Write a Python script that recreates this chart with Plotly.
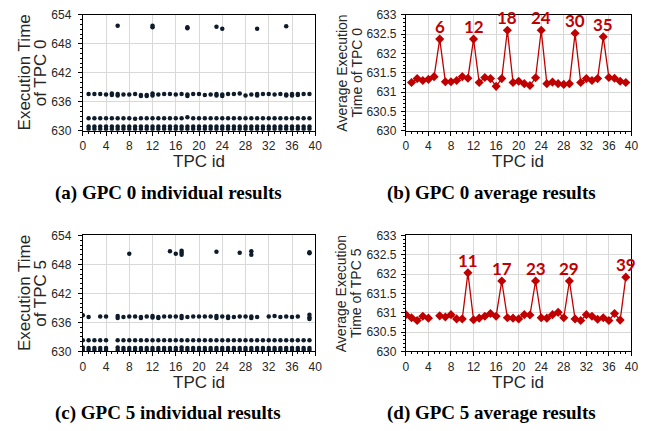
import plotly.graph_objects as go

# ---------------- data ----------------
# GPC 0 average execution time per TPC id (panel b)
gpc0_tpc = [1, 2, 3, 4, 5, 6, 7, 8, 9, 10, 11, 12, 13, 14, 15, 16, 17, 18, 19, 20,
            21, 22, 23, 24, 25, 26, 27, 28, 29, 30, 31, 32, 33, 34, 35, 36, 37, 38, 39]
gpc0_avg = [631.25, 631.35, 631.30, 631.33, 631.40, 632.37, 631.27, 631.27, 631.30, 631.40,
            631.36, 632.37, 631.25, 631.38, 631.35, 631.15, 631.35, 632.60, 631.25, 631.28,
            631.22, 631.17, 631.37, 632.60, 631.22, 631.26, 631.22, 631.20, 631.22, 632.52,
            631.25, 631.35, 631.30, 631.35, 632.43, 631.38, 631.36, 631.28, 631.25]
gpc0_peaks = [6, 12, 18, 24, 30, 35]

# GPC 5 average execution time per TPC id (panel d), TPC 5 missing
gpc5_tpc = [0, 1, 2, 3, 4, 5, 6, 7, 8, 9, 10, 11, 12, 13, 14, 15, 16, 17, 18, 19,
            20, 21, 22, 23, 24, 25, 26, 27, 28, 29, 30, 31, 32, 33, 34, 35, 36, 37, 38, 39]
gpc5_avg = [630.95, 630.87, 630.80, 630.91, 630.86, None, 630.92, 630.89, 630.95, 630.84,
            630.84, 632.03, 630.82, 630.86, 630.91, 630.98, 630.91, 631.82, 630.87, 630.86,
            630.84, 630.95, 630.94, 631.82, 630.87, 630.86, 630.95, 631.01, 630.87, 631.82,
            630.84, 630.80, 630.95, 630.91, 630.83, 630.87, 630.80, 630.98, 630.81, 631.92]
gpc5_peaks = [11, 17, 23, 29, 39]

# GPC 0 individual runs (panel a)
gpc0_band_hi = [637.6, 637.6, 637.6, 637.5, 637.7, 637.6, 637.5, 637.5, 637.6, 637.4,
                637.4, 637.7, 637.5, 637.6, 637.6, 637.5, 637.6, 637.5, 637.6, 637.6,
                637.4, 637.5, 637.6, 637.5, 637.6, 637.6, 637.7, 637.3, 637.5, 637.6,
                637.6, 637.6, 637.5, 637.6, 637.5, 637.6, 637.6, 637.6, 637.6]
gpc0_band_mid = [632.6, 632.6, 632.6, 632.6, 632.6, 632.6, 632.6, 632.6, 632.5, 632.6,
                 632.6, 632.6, 632.6, 632.6, 632.6, 632.6, 632.6, 632.8, 632.6, 632.6,
                 632.6, 632.6, 632.6, 632.6, 632.6, 632.6, 632.6, 632.6, 632.6, 632.6,
                 632.6, 632.6, 632.6, 632.6, 632.6, 632.6, 632.6, 632.6, 632.6]
gpc0_band_low = [630.9, 630.9, 630.9, 630.9, 630.9, 630.9, 630.9, 630.9, 630.9, 630.9,
                 630.9, 630.9, 630.9, 630.9, 630.9, 630.9, 630.9, 630.9, 630.9, 630.9,
                 630.9, 630.9, 630.9, 630.9, 630.9, 630.9, 630.9, 630.9, 630.9, 630.9,
                 630.9, 630.9, 630.9, 630.9, 630.9, 630.9, 630.9, 630.9, 630.9]
gpc0_band_base = [630.4, 630.4, 630.4, 630.4, 630.4, 630.4, 630.4, 630.4, 630.4, 630.4,
                  630.4, 630.4, 630.4, 630.4, 630.4, 630.4, 630.4, 630.4, 630.4, 630.4,
                  630.4, 630.4, 630.4, 630.4, 630.4, 630.4, 630.4, 630.4, 630.4, 630.4,
                  630.4, 630.4, 630.4, 630.4, 630.4, 630.4, 630.4, 630.4, 630.4]
gpc0_extra_tpc = [5, 6, 10, 11, 12, 18, 23, 24, 30, 35, 36, 37]
gpc0_extra_val = [637.4, 637.3, 637.2, 637.2, 637.3, 637.2, 637.3, 637.2, 637.3, 637.3, 637.3, 637.4]
gpc0_out_tpc = [6, 12, 12, 18, 18, 23, 24, 30, 35]
gpc0_out_val = [651.7, 651.7, 651.4, 651.4, 651.2, 651.5, 651.1, 651.1, 651.6]

# GPC 5 individual runs (panel c)
gpc5_hi_tpc = [0, 1, 3, 4, 6, 7, 8, 9, 10, 11, 12, 13, 14, 15, 16, 17, 18, 19, 20, 21,
               22, 23, 24, 25, 26, 27, 28, 29, 30, 32, 33, 34, 35, 36, 37, 39]
gpc5_hi_val = [637.5, 637.1, 637.2, 637.2, 637.3, 637.1, 637.2, 637.2, 637.1, 637.2,
               637.3, 637.1, 637.2, 637.2, 637.2, 637.3, 637.1, 637.2, 637.2, 637.2,
               637.2, 637.3, 637.2, 637.2, 637.1, 637.2, 637.2, 637.2, 637.1, 637.2,
               637.3, 637.1, 637.2, 637.1, 637.2, 637.6]
gpc5_run_tpc = [0, 1, 2, 3, 4, 6, 7, 8, 9, 10, 11, 12, 13, 14, 15, 16, 17, 18, 19, 20,
                21, 22, 23, 24, 25, 26, 27, 28, 29, 30, 31, 32, 33, 34, 35, 36, 37, 38, 39]
gpc5_band_mid = [632.3, 632.3, 632.3, 632.3, 632.3, 632.3, 632.3, 632.3, 632.3, 632.3,
                 632.3, 632.3, 632.3, 632.3, 632.3, 632.3, 632.3, 632.3, 632.3, 632.3,
                 632.3, 632.3, 632.3, 632.3, 632.3, 632.3, 632.3, 632.3, 632.3, 632.3,
                 632.3, 632.3, 632.3, 632.3, 632.3, 632.3, 632.3, 632.3, 632.3]
gpc5_band_low = [630.8, 630.7, 630.7, 630.7, 630.7, 630.8, 630.7, 630.7, 630.7, 630.7,
                 630.7, 630.7, 630.7, 630.7, 630.7, 630.7, 630.8, 630.7, 630.7, 630.7,
                 630.7, 630.7, 630.7, 630.7, 630.7, 630.7, 630.7, 630.7, 630.7, 630.7,
                 630.7, 630.7, 630.7, 630.7, 630.7, 630.7, 630.7, 630.7, 630.7]
gpc5_band_base = [630.3, 630.3, 630.3, 630.3, 630.3, 630.3, 630.3, 630.3, 630.3, 630.3,
                  630.3, 630.3, 630.3, 630.3, 630.3, 630.3, 630.3, 630.3, 630.3, 630.3,
                  630.3, 630.3, 630.3, 630.3, 630.3, 630.3, 630.3, 630.3, 630.3, 630.3,
                  630.3, 630.3, 630.3, 630.3, 630.3, 630.3, 630.3, 630.3, 630.3]
gpc5_extra_tpc = [6, 10, 12, 13, 17, 23, 25, 29, 39, 39]
gpc5_extra_val = [636.9, 636.9, 637.0, 636.9, 636.9, 636.9, 636.9, 636.9, 637.0, 636.7]
gpc5_out_tpc = [8, 15, 16, 17, 17, 17, 23, 27, 29, 29, 39, 39]
gpc5_out_val = [650.2, 650.7, 650.2, 650.8, 650.4, 650.0, 650.6, 650.4, 650.7, 650.0, 650.5, 650.3]

captions = ["(a) GPC 0 individual results", "(b) GPC 0 average results",
            "(c) GPC 5 individual results", "(d) GPC 5 average results"]

# ---------------- styling ----------------
W, H = 668, 431
DOT = "#0d1b2a"
RED = "#c00000"
TICKFONT = dict(family="Liberation Sans, Arial", size=12, color="#262626")
TITLEFONT = dict(family="Liberation Sans, Arial", size=17, color="#262626")
TITLEFONT_SM = dict(family="Liberation Sans, Arial", size=14, color="#262626")

def px_x(p):
    return p / W

def px_y(p):
    return 1 - p / H

fig = go.Figure()

# panel a
a_x = gpc0_tpc * 4 + gpc0_extra_tpc + gpc0_out_tpc
a_y = gpc0_band_hi + gpc0_band_mid + gpc0_band_low + gpc0_band_base + gpc0_extra_val + gpc0_out_val
fig.add_trace(go.Scatter(x=a_x, y=a_y, mode="markers", xaxis="x", yaxis="y",
                         marker=dict(color=DOT, size=4.5), showlegend=False))

# panel b
fig.add_trace(go.Scatter(x=gpc0_tpc, y=gpc0_avg, mode="lines+markers", xaxis="x2", yaxis="y2",
                         line=dict(color=RED, width=1.3),
                         marker=dict(color=RED, size=7, symbol="diamond"), showlegend=False))

# panel c
c_x = gpc5_hi_tpc + gpc5_run_tpc * 3 + gpc5_extra_tpc + gpc5_out_tpc
c_y = gpc5_hi_val + gpc5_band_mid + gpc5_band_low + gpc5_band_base + gpc5_extra_val + gpc5_out_val
fig.add_trace(go.Scatter(x=c_x, y=c_y, mode="markers", xaxis="x3", yaxis="y3",
                         marker=dict(color=DOT, size=4.5), showlegend=False))

# panel d
fig.add_trace(go.Scatter(x=gpc5_tpc, y=gpc5_avg, mode="lines+markers", xaxis="x4", yaxis="y4",
                         line=dict(color=RED, width=1.3), connectgaps=False,
                         marker=dict(color=RED, size=7, symbol="diamond"), showlegend=False))

def axis_common():
    return dict(showline=True, linecolor="black", linewidth=1, mirror=True,
                showgrid=True, gridcolor="#d9d9d9", gridwidth=1, zeroline=False,
                ticks="outside", ticklen=4, tickcolor="black", tickfont=TICKFONT,
                fixedrange=True)

xdom_left = [px_x(81), px_x(317)]
xdom_right = [px_x(409), px_x(638)]
ydom_top = [px_y(128), px_y(8)]
ydom_bot = [px_y(356), px_y(236)]

def xax(dom, anchor):
    d = axis_common()
    d.update(domain=dom, anchor=anchor, range=[0, 40], dtick=4, tick0=0,
             minor=dict(ticks="outside", ticklen=2, dtick=1, tickcolor="black", showgrid=False))
    return d

def yax_scatter(dom, anchor):
    d = axis_common()
    d.update(domain=dom, anchor=anchor, range=[630, 654], dtick=6, tick0=630,
             ticklabelstandoff=4,
             minor=dict(ticks="outside", ticklen=2, dtick=1, tickcolor="black", showgrid=False))
    return d

def yax_avg(dom, anchor):
    d = axis_common()
    d.update(domain=dom, anchor=anchor, range=[630, 633], dtick=0.5, tick0=630,
             ticklabelstandoff=2,
             minor=dict(ticks="outside", ticklen=2, dtick=0.1, tickcolor="black", showgrid=False))
    return d

fig.update_layout(
    width=W, height=H, margin=dict(l=0, r=0, t=0, b=0),
    paper_bgcolor="white", plot_bgcolor="white",
    xaxis=xax(xdom_left, "y"), yaxis=yax_scatter(ydom_top, "x"),
    xaxis2=xax(xdom_right, "y2"), yaxis2=yax_avg(ydom_top, "x2"),
    xaxis3=xax(xdom_left, "y3"), yaxis3=yax_scatter(ydom_bot, "x3"),
    xaxis4=xax(xdom_right, "y4"), yaxis4=yax_avg(ydom_bot, "x4"),
)

ann = []
# x-axis titles
for cx, cy in [(199, 160), (523, 160), (199, 388), (523, 388)]:
    ann.append(dict(text="TPC id", x=px_x(cx), y=px_y(cy), xref="paper", yref="paper",
                    showarrow=False, font=TITLEFONT, xanchor="center", yanchor="middle"))
# y-axis titles (two lines each)
ytitles = [
    (["Execution Time", "of TPC 0"], 22, 38, 68, TITLEFONT),
    (["Average Execution", "Time of TPC 0"], 344, 359, 68, TITLEFONT_SM),
    (["Execution Time", "of TPC 5"], 22, 38, 296, TITLEFONT),
    (["Average Execution", "Time of TPC 5"], 344, 359, 296, TITLEFONT_SM),
]
for lines, x1, x2, cy, fnt in ytitles:
    for txt, xx in zip(lines, [x1, x2]):
        ann.append(dict(text=txt, x=px_x(xx), y=px_y(cy), xref="paper", yref="paper",
                        showarrow=False, font=fnt, textangle=-90,
                        xanchor="center", yanchor="middle"))
# captions
for txt, cx, cy in zip(captions, [168, 496, 168, 496], [192, 192, 420, 420]):
    ann.append(dict(text="<b>" + txt + "</b>", x=px_x(cx), y=px_y(cy), xref="paper", yref="paper",
                    showarrow=False, xanchor="center", yanchor="middle",
                    font=dict(family="Liberation Serif, Times New Roman", size=19, color="black")))
# peak labels
LBL = dict(family="Lato, Liberation Sans", size=17, color=RED)
for t in gpc0_peaks:
    v = gpc0_avg[gpc0_tpc.index(t)]
    ann.append(dict(text="<b>%d</b>" % t, x=t, y=v, xref="x2", yref="y2", showarrow=False,
                    xanchor="center", yanchor="bottom", yshift=0, font=LBL))
for t in gpc5_peaks:
    v = gpc5_avg[gpc5_tpc.index(t)]
    ann.append(dict(text="<b>%d</b>" % t, x=t, y=v, xref="x4", yref="y4", showarrow=False,
                    xanchor="center", yanchor="bottom", yshift=0, font=LBL))

fig.update_layout(annotations=ann)
fig.write_html("out.html", config={"displayModeBar": False},
               post_script="document.body.style.margin='0';")
